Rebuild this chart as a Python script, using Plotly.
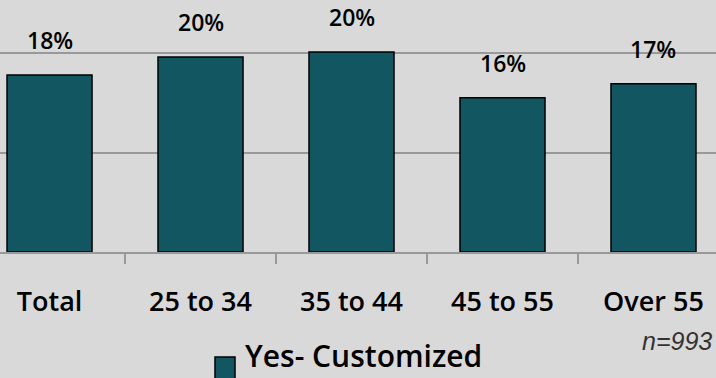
import plotly.graph_objects as go

# Share of respondents who customized, by age group
categories = ["Total", "25 to 34", "35 to 44", "45 to 55", "Over 55"]
customized_share = [0.178, 0.196, 0.201, 0.155, 0.169]
series_name = "Yes- Customized"
sample_note = "n=993"

W, H = 716, 378
PLOT_H = 252          # height of the plotting area in px
TEAL = "#115661"
GRID = "#999999"
BG = "#d9d9d9"
FONT = "Open Sans"
WEIGHT = 600


def py(px_from_top):
    """Convert a pixel row (from figure top) into paper y units."""
    return (PLOT_H - px_from_top) / PLOT_H


fig = go.Figure()
fig.add_trace(go.Bar(
    x=categories,
    y=customized_share,
    name=series_name,
    width=0.563,
    marker=dict(color=TEAL, line=dict(color="black", width=1.5)),
    showlegend=False,
))

# Value labels above each bar
for cat, v in zip(categories, customized_share):
    fig.add_annotation(
        x=cat, y=v, text=f"{round(v * 100)}%",
        showarrow=False, yanchor="bottom", yshift=17,
        font=dict(family=FONT, size=23, color="black", weight=WEIGHT),
    )

# Legend entry: swatch and label
fig.add_shape(
    type="rect", xref="paper", yref="paper",
    x0=215 / W, x1=235 / W, y0=py(380), y1=py(357),
    fillcolor=TEAL, line=dict(color="black", width=1.5),
)
fig.add_annotation(
    xref="paper", yref="paper", x=243 / W, y=py(378),
    xanchor="left", yanchor="bottom", showarrow=False,
    text=series_name, font=dict(family=FONT, size=30, color="black", weight=WEIGHT),
)

# Sample size note
fig.add_annotation(
    xref="paper", yref="paper", x=714 / W, y=py(341),
    xanchor="right", yanchor="middle", showarrow=False,
    text=f"<i>{sample_note}</i>",
    font=dict(family="Liberation Sans", size=25, color="#333333"),
)

fig.update_layout(
    width=W, height=H,
    margin=dict(l=0, r=0, t=0, b=H - PLOT_H, pad=0),
    paper_bgcolor=BG, plot_bgcolor=BG,
    showlegend=False,
    xaxis=dict(
        type="category",
        range=[-0.328, 4.414],
        tickson="boundaries",
        ticks="outside", ticklen=10, tickwidth=2, tickcolor=GRID,
        showgrid=False,
        showline=True, linecolor=GRID, linewidth=2,
        tickfont=dict(family=FONT, size=27, color="black", weight=WEIGHT),
        ticklabelstandoff=25,
        fixedrange=True,
    ),
    yaxis=dict(
        range=[0, 0.2533],
        dtick=0.1,
        showticklabels=False,
        showgrid=True, gridcolor=GRID, gridwidth=2,
        zeroline=False,
        fixedrange=True,
    ),
)

fig.write_html("out.html")
